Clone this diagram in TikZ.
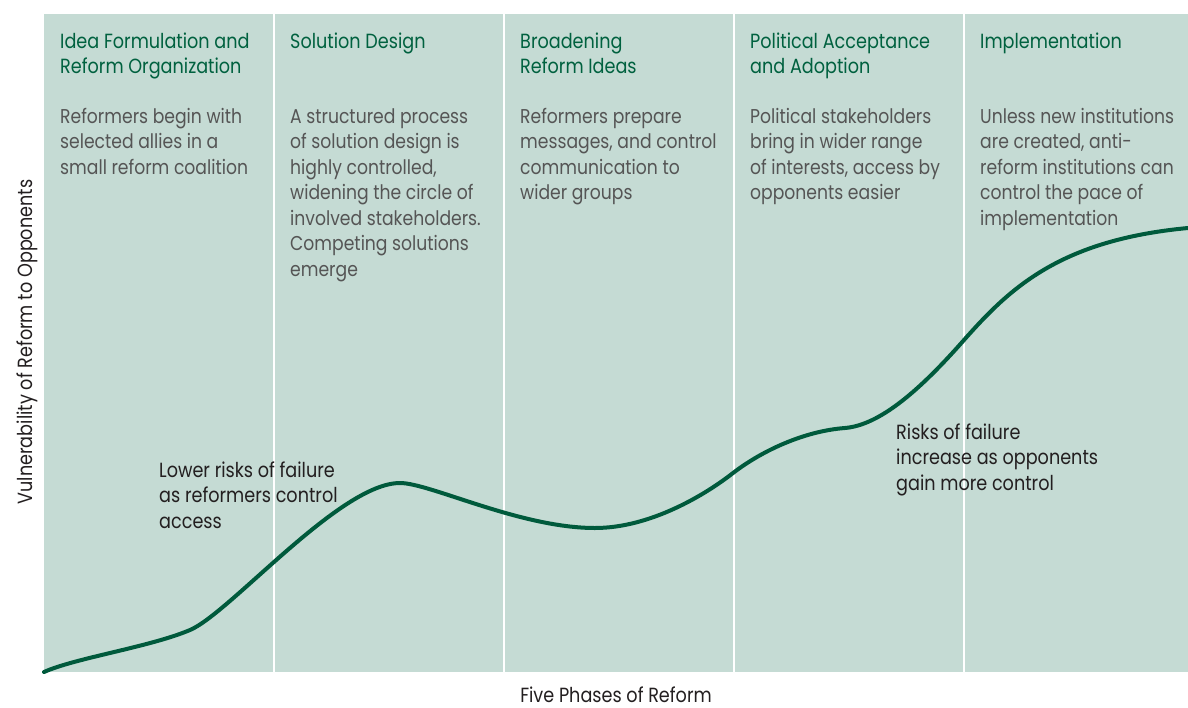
\documentclass[tikz,border=0pt]{standalone}
\usepackage{fontspec}
\setmainfont{Poppins}[FakeStretch=0.86]
\definecolor{panel}{HTML}{C5DBD4}
\definecolor{ttl}{HTML}{00613F}
\definecolor{crv}{HTML}{005A3C}
\definecolor{desc}{HTML}{555555}
\definecolor{note}{HTML}{231F20}
\tikzset{
  title/.style={anchor=base west, inner sep=0pt, align=left, text=ttl,
     font=\fontsize{20.5}{25}\selectfont},
  desctext/.style={anchor=base west, inner sep=0pt, align=left, text=desc,
     font=\fontsize{20}{25.5}\selectfont},
  notetext/.style={anchor=base west, inner sep=0pt, align=left, text=note,
     font=\fontsize{20.5}{25.5}\selectfont},
  axislabel/.style={inner sep=0pt, text=note, font=\fontsize{20.5}{22}\selectfont},
  divider/.style={draw=white, line width=1.6pt},
  riskcurve/.style={draw=crv, line width=4pt, line cap=round}
}
\begin{document}
\begin{tikzpicture}[x=1pt,y=-1pt]
\useasboundingbox (0,0) rectangle (1188,707);
\fill[panel] (44,14) rectangle (1188,672);
\foreach \x in {274,504,734,964} \draw[divider] (\x,14) -- (\x,672);

% base anchor of a multi-line node = baseline of its last line
\node[title] (t1) at (60,73) {Idea Formulation and\\Reform Organization};
\node[title] (t2) at (290,48) {Solution Design};
\node[title] (t3) at (520,73) {Broadening\\Reform Ideas};
\node[title] (t4) at (750,73) {Political Acceptance\\and Adoption};
\node[title] (t5) at (980,48) {Implementation};

\node[desctext] (d1) at (60,174) {Reformers begin with\\selected allies in a\\small reform coalition};
\node[desctext] (d2) at (290,276) {A structured process\\of solution design is\\highly controlled,\\widening the circle of\\involved stakeholders.\\Competing solutions\\emerge};
\node[desctext] (d3) at (520,199.5) {Reformers prepare\\messages, and control\\communication to\\wider groups};
\node[desctext] (d4) at (750,199.5) {Political stakeholders\\bring in wider range\\of interests, access by\\opponents easier};
\node[desctext] (d5) at (980,225) {Unless new institutions\\are created, anti-\\reform institutions can\\control the pace of\\implementation};

\draw[riskcurve] (44,672) .. controls (75,658) and (150,647) .. (190,630)
  .. controls (230,613) and (340,483) .. (400,483)
  .. controls (430,483) and (520,528) .. (595,528)
  .. controls (650,528) and (705,495) .. (733,473)
  .. controls (763,450) and (805,431) .. (845,428)
  .. controls (880,425) and (920,390) .. (964,340)
  .. controls (1010,288) and (1060,240) .. (1188,228);

\node[notetext] (n1) at (159,528) {Lower risks of failure\\as reformers control\\access};
\node[notetext] (n2) at (896,490) {Risks of failure\\increase as opponents\\gain more control};

\node[axislabel, anchor=base] (xl) at (616,702) {Five Phases of Reform};
\node[axislabel, anchor=base, rotate=90] (yl) at (32,342) {Vulnerability of Reform to Opponents};
\end{tikzpicture}
\end{document}
